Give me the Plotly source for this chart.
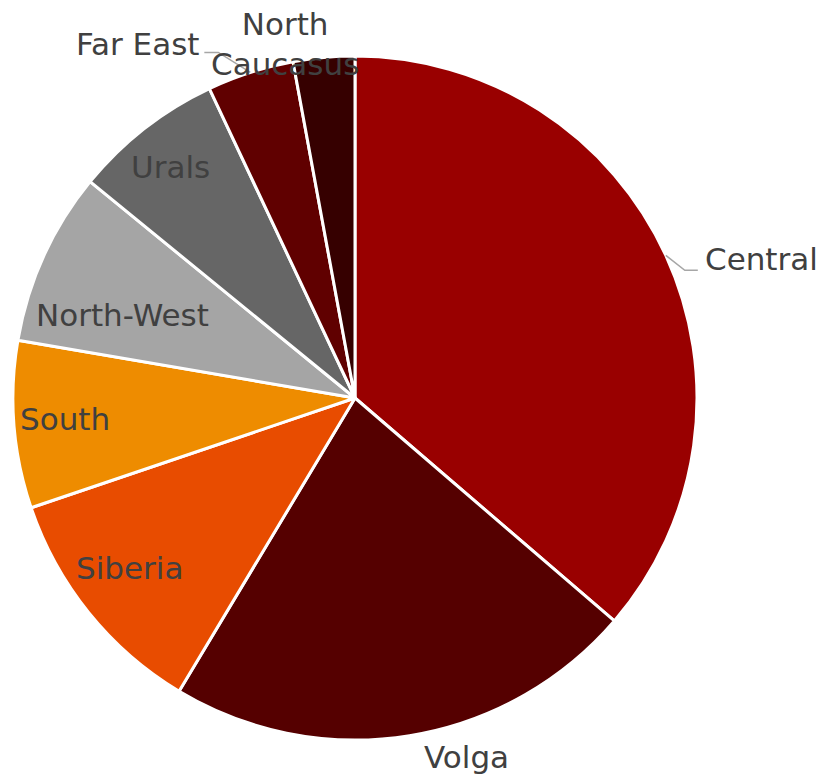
import math
import plotly.graph_objects as go

# ## data
regions = ["Central", "Volga", "Siberia", "South", "North-West", "Urals", "Far East", "North Caucasus"]
shares = [36.3, 22.3, 11.2, 7.9, 8.2, 7.1, 4.1, 2.9]
colors = ["#990000", "#550000", "#E84C00", "#EE8C00", "#A5A5A5", "#666666", "#600000", "#360000"]
label_text = ["Central", "Volga", "Siberia", "South", "North-West", "Urals", "Far East", "North<br>Caucasus"]

# ## label placement: radius factor, pixel shift x, pixel shift y (down positive), anchor
label_pos = {
    "Central": (1.0, 37, 4, "left"),
    "Volga": (1.0, 57, 21, "center"),
    "Siberia": (0.82, -7, -6, "center"),
    "South": (0.85, 0, -2, "center"),
    "North-West": (0.70, -15, 16, "center"),
    "Urals": (0.865, -2, 2, "center"),
    "Far East": (1.0, -49, -28, "right"),
    "North Caucasus": (1.0, -39, -13, "center"),
}
# leader lines as offsets from the slice edge point
leaders = {
    "Central": [(0, 0), (19, 15), (32, 15)],
    "Far East": [(0, 0), (-32, -20), (-46, -20)],
}

W, H = 819, 774
dom_x = [13 / W, 697 / W]
dom_y = [1 - 740 / H, 1 - 56 / H]
cx = W * (dom_x[0] + dom_x[1]) / 2
cy = H * (1 - (dom_y[0] + dom_y[1]) / 2)
R = min(W * (dom_x[1] - dom_x[0]), H * (dom_y[1] - dom_y[0])) / 2

fig = go.Figure(go.Pie(
    labels=regions, values=shares, sort=False, direction="clockwise", rotation=0,
    marker=dict(colors=colors, line=dict(color="white", width=3)),
    textinfo="none", hoverinfo="label+percent", showlegend=False,
    domain=dict(x=dom_x, y=dom_y),
))

font = dict(family="DejaVu Sans", size=31, color="#404040")
total = sum(shares)
start = 0.0
for name, val, txt in zip(regions, shares, label_text):
    mid = (start + val / 2) / total * 2 * math.pi
    start += val
    f, dx, dy, anchor = label_pos[name]
    px_ = cx + f * R * math.sin(mid) + dx
    py_ = cy - f * R * math.cos(mid) + dy
    fig.add_annotation(x=px_ / W, y=1 - py_ / H, xref="paper", yref="paper",
                       text=txt, showarrow=False, xanchor=anchor, yanchor="middle",
                       font=font)
    if name in leaders:
        ex = cx + R * math.sin(mid)
        ey = cy - R * math.cos(mid)
        pts = [((ex + ox) / W, 1 - (ey + oy) / H) for ox, oy in leaders[name]]
        path = "M " + " L ".join(f"{x},{y}" for x, y in pts)
        fig.add_shape(type="path", path=path, xref="paper", yref="paper",
                      line=dict(color="#A6A6A6", width=1.5))

fig.update_layout(width=W, height=H, margin=dict(l=0, r=0, t=0, b=0),
                  paper_bgcolor="white", plot_bgcolor="white")
# drop the default page margin so the figure fills the window exactly
fig.write_html("out.html", config={"displayModeBar": False},
               post_script="document.body.style.margin='0';document.body.style.overflow='hidden';")
